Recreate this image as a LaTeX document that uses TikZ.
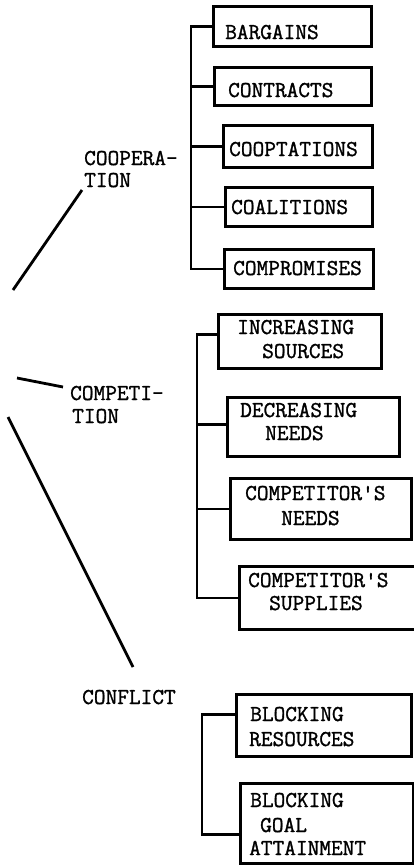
\documentclass[tikz,border=0pt]{standalone}
\usepackage{fontspec}
\newfontfamily\twfont{Latin Modern Mono}[RawFeature={embolden=1.3}]
\usetikzlibrary{calc}
\begin{document}
\begin{tikzpicture}[x=1pt,y=-1pt,
  box/.style={draw, line width=3pt, rectangle, inner sep=0pt, anchor=north west},
  txt/.style={font=\twfont\fontsize{22.7}{26}\selectfont, inner sep=0pt, anchor=base west},
  wire/.style={line width=2.8pt},
  diag/.style={line width=2.8pt}]
\useasboundingbox (0,0) rectangle (413,865);

% ---- cooperation boxes
\node[box, minimum width=158pt, minimum height=40pt] (bar) at (212,5) {};
\node[box, minimum width=157pt, minimum height=38pt] (con) at (213,66) {};
\node[box, minimum width=149pt, minimum height=42pt] (coopt) at (222,124) {};
\node[box, minimum width=147pt, minimum height=39pt] (coal) at (224,186) {};
\node[box, minimum width=149pt, minimum height=39pt] (compr) at (223,248) {};
\node[txt] (tbar) at (225,39) {BARGAINS};
\node[txt] (tcon) at (228,97) {CONTRACTS};
\node[txt] (tcoopt) at (229,156) {COOPTATIONS};
\node[txt] (tcoal) at (231,214) {COALITIONS};
\node[txt] (tcompr) at (233,275) {COMPROMISES};

% ---- competition boxes
\node[box, minimum width=163pt, minimum height=54pt] (inc) at (217,313) {};
\node[box, minimum width=172pt, minimum height=59pt] (dec) at (226,396) {};
\node[box, minimum width=181pt, minimum height=61pt] (cn) at (229,477) {};
\node[box, minimum width=192pt, minimum height=63pt] (cs) at (238,565) {};
\node[txt] (tinc1) at (237,334) {INCREASING};
\node[txt] (tinc2) at (262,358) {SOURCES};
\node[txt] (tdec1) at (240,417) {DECREASING};
\node[txt] (tdec2) at (265,440) {NEEDS};
\node[txt] (tcn1) at (245,500) {COMPETITOR'S};
\node[txt] (tcn2) at (281,525) {NEEDS};
\node[txt] (tcs1) at (248,587) {COMPETITOR'S};
\node[txt] (tcs2) at (269,610) {SUPPLIES};

% ---- conflict boxes
\node[box, minimum width=175pt, minimum height=62pt] (br) at (235,693) {};
\node[box, minimum width=172.5pt, minimum height=80pt] (bg) at (239,782) {};
\node[txt] (tbr1) at (250,721) {BLOCKING};
\node[txt] (tbr2) at (249,746) {RESOURCES};
\node[txt] (tbg1) at (250,807) {BLOCKING};
\node[txt] (tbg2) at (260,832) {GOAL};
\node[txt] (tbg3) at (249,855) {ATTAINMENT};

% ---- category labels
\node[txt] (coop1) at (84,165) {COOPERA-};
\node[txt] (coop2) at (84,187) {TION};
\node[txt] (comp1) at (70,400) {COMPETI-};
\node[txt] (comp2) at (72,423) {TION};
\node[txt] (conf) at (82,704) {CONFLICT};

% ---- brackets
\coordinate (busA) at (191,0);
\draw[wire] (bar.west) -- (bar.west -| busA) |- (compr.west);
\draw[wire] (con.west) -- (con.west -| busA);
\draw[wire] (coopt.west) -- (coopt.west -| busA);
\draw[wire] (coal.west) -- (coal.west -| busA);

\coordinate (busB) at (197,0);
\draw[wire] ([yshift=7pt]inc.west) -- ([yshift=7pt]inc.west -| busB) |- (cs.west);
\draw[wire] ([yshift=2.5pt]dec.west) -- ([yshift=2.5pt]dec.west -| busB);
\draw[wire] (cn.west) -- (cn.west -| busB);

\coordinate (busC) at (202,0);
\draw[wire] ([yshift=11pt]br.west) -- ([yshift=11pt]br.west -| busC) |- ([yshift=-11pt]bg.west);

% ---- fan lines
\coordinate (d1a) at (82,190);
\coordinate (d1b) at (13,290);
\coordinate (d2a) at (63,387);
\coordinate (d2b) at (17,378);
\coordinate (d3a) at (133,667);
\coordinate (d3b) at (8,417);
\draw[diag] (d1a) -- (d1b);
\draw[diag] (d2a) -- (d2b);
\draw[diag] (d3a) -- (d3b);
\end{tikzpicture}
\end{document}
